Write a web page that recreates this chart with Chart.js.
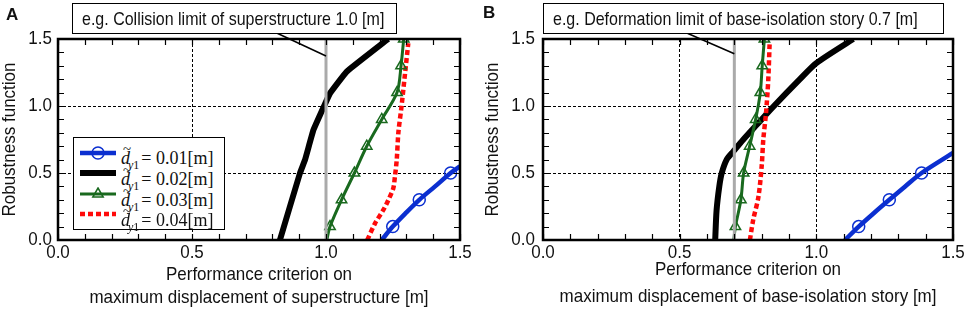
<!DOCTYPE html>
<html>
<head>
<meta charset="utf-8">
<script src="https://cdn.jsdelivr.net/npm/chart.js@4.4.1/dist/chart.umd.min.js"></script>
<style>
html,body{margin:0;padding:0;background:#fff;}
body{width:965px;height:315px;overflow:hidden;position:relative;}
canvas{position:absolute;top:0;}
.note{position:absolute;top:3px;height:31px;box-sizing:border-box;border:1px solid #000;background:#fff;
  font-family:"Liberation Sans",Arial,sans-serif;font-size:16px;
  line-height:26px;padding-top:3px;padding-left:9px;white-space:nowrap;color:#111;}
.note span{display:inline-block;transform:scale(1,1.18);transform-origin:0 60%;}
.letter{position:absolute;font-family:"Liberation Sans",Arial,sans-serif;font-weight:bold;font-size:17px;line-height:17px;color:#111;}
.legend{position:absolute;left:73px;top:137px;width:152px;height:93px;box-sizing:border-box;border:1px solid #000;background:#fff;}
.legend svg{position:absolute;left:6px;}
.lt{position:absolute;left:47px;height:20px;line-height:20px;white-space:nowrap;
  font-family:"Liberation Serif","Times New Roman",serif;font-size:18px;color:#111;}
.lt .d{position:relative;font-style:italic;}
.lt .d .tl{position:absolute;left:2px;top:-9px;font-style:normal;font-size:15px;}
.lt sub{font-size:12px;line-height:0;vertical-align:-5px;margin-left:-2px;margin-right:2px;}
</style>
</head>
<body>
<canvas id="cA" width="480" height="315" style="left:0px"></canvas>
<canvas id="cB" width="485" height="315" style="left:480px"></canvas>

<div class="letter" style="left:6px;top:6px">A</div>
<div class="letter" style="left:483px;top:4px">B</div>
<div class="note" style="left:72px;width:325px"><span>e.g. Collision limit of superstructure 1.0 [m]</span></div>
<div class="note" style="left:543px;width:401px"><span>e.g. Deformation limit of base-isolation story 0.7 [m]</span></div>

<div class="legend">
  <svg width="36" height="14" style="top:8px"><line x1="0" y1="7" x2="36" y2="7" stroke="#0b2fd0" stroke-width="4.5"/><circle cx="18" cy="7" r="6" fill="none" stroke="#0b2fd0" stroke-width="1.5"/></svg>
  <div class="lt" style="top:10px"><span class="d">d<span class="tl">~</span></span><sub><i>y</i>1</sub>= 0.01[m]</div>
  <svg width="36" height="14" style="top:28px"><line x1="0" y1="7" x2="36" y2="7" stroke="#000" stroke-width="6"/></svg>
  <div class="lt" style="top:31px"><span class="d">d<span class="tl">~</span></span><sub><i>y</i>1</sub>= 0.02[m]</div>
  <svg width="36" height="14" style="top:49px"><line x1="0" y1="7" x2="36" y2="7" stroke="#19691e" stroke-width="3"/><polygon points="18,1 23.2,10 12.8,10" fill="none" stroke="#19691e" stroke-width="1.5"/></svg>
  <div class="lt" style="top:52px"><span class="d">d<span class="tl">~</span></span><sub><i>y</i>1</sub>= 0.03[m]</div>
  <svg width="36" height="14" style="top:69px"><line x1="0" y1="7" x2="36" y2="7" stroke="#ff0a0a" stroke-width="4.5" stroke-dasharray="5,3"/></svg>
  <div class="lt" style="top:72px"><span class="d">d<span class="tl">~</span></span><sub><i>y</i>1</sub>= 0.04[m]</div>
</div>

<script>
// ---------- tick labels ----------
const tickLabels = ['0.0', '0.5', '1.0', '1.5'];
const gridValues = [0.5, 1.0];

// ---------- Panel A (superstructure) ----------
const aRob01  = [0, 0.1, 0.2, 0.3, 0.4, 0.5, 0.55];
const aPerf01 = [1.208, 1.249, 1.297, 1.348, 1.407, 1.465, 1.5];
const aMarkRob01  = [0.1, 0.3, 0.5];
const aMarkPerf01 = [1.249, 1.348, 1.465];

const aRob02  = [0, 0.5, 0.6, 0.82, 1.0, 1.095, 1.256, 1.5];
const aPerf02 = [0.828, 0.903, 0.922, 0.953, 0.993, 1.015, 1.077, 1.232];

const aRob03  = [0, 0.1, 0.3, 0.5, 0.7, 0.9, 1.1, 1.3, 1.5];
const aPerf03 = [1.003, 1.015, 1.058, 1.106, 1.152, 1.208, 1.265, 1.28, 1.29];
const aMarkRob03  = [0.1, 0.3, 0.5, 0.7, 0.9, 1.1, 1.3, 1.5];
const aMarkPerf03 = [1.015, 1.058, 1.106, 1.152, 1.208, 1.265, 1.28, 1.29];

const aRob04  = [0, 0.124, 0.224, 0.3, 0.386, 0.47, 0.6, 0.8, 1.0, 1.244, 1.468];
const aPerf04 = [1.154, 1.183, 1.214, 1.233, 1.251, 1.257, 1.264, 1.27, 1.282, 1.295, 1.307];

const aLimit = 1.0;
const aLeader = [0.816, 1.0, 1.373];   // [x at box, x end, robustness end]

// ---------- Panel B (base-isolation story) ----------
const bRob01  = [0, 0.1, 0.2, 0.3, 0.4, 0.5, 0.65];
const bPerf01 = [1.105, 1.155, 1.21, 1.267, 1.325, 1.385, 1.5];
const bMarkRob01  = [0.1, 0.3, 0.5];
const bMarkPerf01 = [1.155, 1.267, 1.385];

const bRob02  = [0, 0.22, 0.4, 0.5, 0.6, 0.66, 0.75, 0.86, 1.0, 1.2, 1.32, 1.5];
const bPerf02 = [0.63, 0.635, 0.645, 0.654, 0.672, 0.696, 0.733, 0.782, 0.845, 0.94, 1.0, 1.135];

const bRob03  = [0, 0.1, 0.3, 0.5, 0.7, 0.9, 1.1, 1.3, 1.5];
const bPerf03 = [0.698, 0.704, 0.724, 0.734, 0.756, 0.778, 0.795, 0.802, 0.81];
const bMarkRob03  = [0.1, 0.3, 0.5, 0.7, 0.9, 1.1, 1.3, 1.5];
const bMarkPerf03 = [0.704, 0.724, 0.734, 0.756, 0.778, 0.795, 0.802, 0.81];

const bRob04  = [0, 0.15, 0.32, 0.55, 0.75, 0.95, 1.19, 1.46];
const bPerf04 = [0.757, 0.769, 0.788, 0.80, 0.806, 0.816, 0.824, 0.829];

const bLimit = 0.7;
const bLeader = [0.526, 0.7, 1.39];

// ---------- styling ----------
const FONT = '"Liberation Sans", Arial, sans-serif';
const C_BLUE = '#0b2fd0', C_BLACK = '#000000', C_GREEN = '#19691e', C_RED = '#ff0a0a', C_GRAY = '#aaaaaa';
const TRANSPARENT = 'rgba(0,0,0,0)';

const pts = (xs, ys) => xs.map((x, i) => ({x: x, y: ys[i]}));
const near = (v, t) => Math.abs(v - t) < 1e-6;
const labelFor = v => {
  const k = Math.round(v * 2);
  return near(v * 2, k) ? tickLabels[k] : '';
};
const gridColor = ctx => (ctx.tick && gridValues.some(g => near(ctx.tick.value, g))) ? '#000' : TRANSPARENT;

// the source figure uses a slightly condensed face: stretch glyphs vertically
function stretchText(canvas, k) {
  const ctx = canvas.getContext('2d');
  const orig = ctx.fillText.bind(ctx);
  ctx.fillText = function (t, x, y, w) {
    this.save();
    this.translate(x, y);
    this.scale(1, k);
    if (w === undefined) orig(t, 0, 0); else orig(t, 0, 0, w);
    this.restore();
  };
}

const framePlugin = {
  id: 'frame',
  afterDatasetsDraw(chart) {
    const {ctx, chartArea: a, scales: {x, y}} = chart;
    ctx.save();
    ctx.strokeStyle = '#000';
    ctx.lineWidth = 1.2;
    const len = 6;
    x.ticks.forEach(t => {
      const px = Math.round(x.getPixelForValue(t.value)) + 0.5;
      ctx.beginPath();
      ctx.moveTo(px, a.bottom); ctx.lineTo(px, a.bottom - len);
      ctx.moveTo(px, a.top); ctx.lineTo(px, a.top + len);
      ctx.stroke();
    });
    y.ticks.forEach(t => {
      const py = Math.round(y.getPixelForValue(t.value)) + 0.5;
      ctx.beginPath();
      ctx.moveTo(a.left, py); ctx.lineTo(a.left + len, py);
      ctx.moveTo(a.right, py); ctx.lineTo(a.right - len, py);
      ctx.stroke();
    });
    ctx.lineWidth = 2.5;
    ctx.strokeRect(a.left, a.top, a.right - a.left, a.bottom - a.top);
    ctx.restore();
  },
  afterDraw(chart, args, opts) {
    const {ctx, chartArea: a, scales: {x, y}} = chart;
    const L = opts.leader;
    if (!L) return;
    ctx.save();
    ctx.strokeStyle = '#000';
    ctx.lineWidth = 1.5;
    ctx.beginPath();
    ctx.moveTo(x.getPixelForValue(L[0]), a.top - 6);
    ctx.lineTo(x.getPixelForValue(L[1]), y.getPixelForValue(L[2]));
    ctx.stroke();
    ctx.restore();
  }
};

function buildChart(id, d) {
  const canvas = document.getElementById(id);
  stretchText(canvas, 1.12);
  const lineDs = (data, color, width, extra) => Object.assign({
    data: data, showLine: true, borderColor: color, borderWidth: width,
    pointRadius: 0, pointHoverRadius: 0, tension: 0.3, fill: false
  }, extra || {});
  const markDs = (data, color, style) => ({
    data: data, showLine: false, pointStyle: style, pointRadius: 6, pointHoverRadius: 6,
    borderColor: color, backgroundColor: TRANSPARENT, borderWidth: 1.5
  });
  return new Chart(canvas, {
    type: 'scatter',
    data: {
      datasets: [
        lineDs([{x: d.limit, y: 0}, {x: d.limit, y: 1.5}], C_GRAY, 3, {tension: 0}),
        markDs(pts(d.mp03, d.mr03), C_GREEN, 'triangle'),
        lineDs(pts(d.p03, d.r03), C_GREEN, 3),
        lineDs(pts(d.p04, d.r04), C_RED, 4.5, {borderDash: [5, 3]}),
        markDs(pts(d.mp01, d.mr01), C_BLUE, 'circle'),
        lineDs(pts(d.p01, d.r01), C_BLUE, 4.5),
        lineDs(pts(d.p02, d.r02), C_BLACK, 6, {tension: d.blackTension})
      ]
    },
    options: {
      responsive: false, animation: false, devicePixelRatio: 1,
      events: [],
      layout: {padding: {left: 0, right: d.padRight, top: 39, bottom: 0}},
      plugins: {legend: {display: false}, tooltip: {enabled: false}, frame: {leader: d.leader}},
      scales: {
        x: {
          type: 'linear', min: 0, max: 1.5,
          ticks: {stepSize: 0.1, maxTicksLimit: 100, autoSkip: false, maxRotation: 0, padding: 3,
                  color: '#111', font: {family: FONT, size: 17}, callback: v => labelFor(v)},
          grid: {drawTicks: false, color: gridColor, lineWidth: 1},
          border: {display: false, dash: [3, 2]},
          title: {display: true, text: d.xTitle, color: '#111',
                  font: {family: FONT, size: 17, lineHeight: d.xLH + 'px'}, padding: {top: 0, bottom: d.xPad}},
          afterFit: s => { s.height = 75; s.paddingLeft = 0; s.paddingRight = 0; }
        },
        y: {
          type: 'linear', min: 0, max: 1.5,
          ticks: {stepSize: 0.1, maxTicksLimit: 100, autoSkip: false, padding: d.yTickPad,
                  color: '#111', font: {family: FONT, size: 17}, callback: v => labelFor(v)},
          grid: {drawTicks: false, color: gridColor, lineWidth: 1},
          border: {display: false, dash: [3, 2]},
          title: {display: true, text: 'Robustness function', color: '#111',
                  font: {family: FONT, size: 17, lineHeight: 1}, padding: {top: d.yTitlePad, bottom: 0}},
          afterFit: s => { s.width = d.yWidth; s.paddingTop = 0; s.paddingBottom = 0; }
        }
      }
    },
    plugins: [framePlugin]
  });
}

buildChart('cA', {
  r01: aRob01, p01: aPerf01, mr01: aMarkRob01, mp01: aMarkPerf01,
  r02: aRob02, p02: aPerf02,
  r03: aRob03, p03: aPerf03, mr03: aMarkRob03, mp03: aMarkPerf03,
  r04: aRob04, p04: aPerf04,
  limit: aLimit, leader: aLeader, blackTension: 0.08,
  xTitle: ['Performance criterion on', 'maximum displacement of superstructure [m]'],
  xLH: 23, xPad: 6, padRight: 20, yWidth: 58, yTickPad: 6, yTitlePad: 1
});

buildChart('cB', {
  r01: bRob01, p01: bPerf01, mr01: bMarkRob01, mp01: bMarkPerf01,
  r02: bRob02, p02: bPerf02,
  r03: bRob03, p03: bPerf03, mr03: bMarkRob03, mp03: bMarkPerf03,
  r04: bRob04, p04: bPerf04,
  limit: bLimit, leader: bLeader, blackTension: 0.25,
  xTitle: ['Performance criterion on', 'maximum displacement of base-isolation story [m]'],
  xLH: 27, xPad: 5, padRight: 12, yWidth: 63, yTickPad: 8, yTitlePad: 4
});
</script>
</body>
</html>
